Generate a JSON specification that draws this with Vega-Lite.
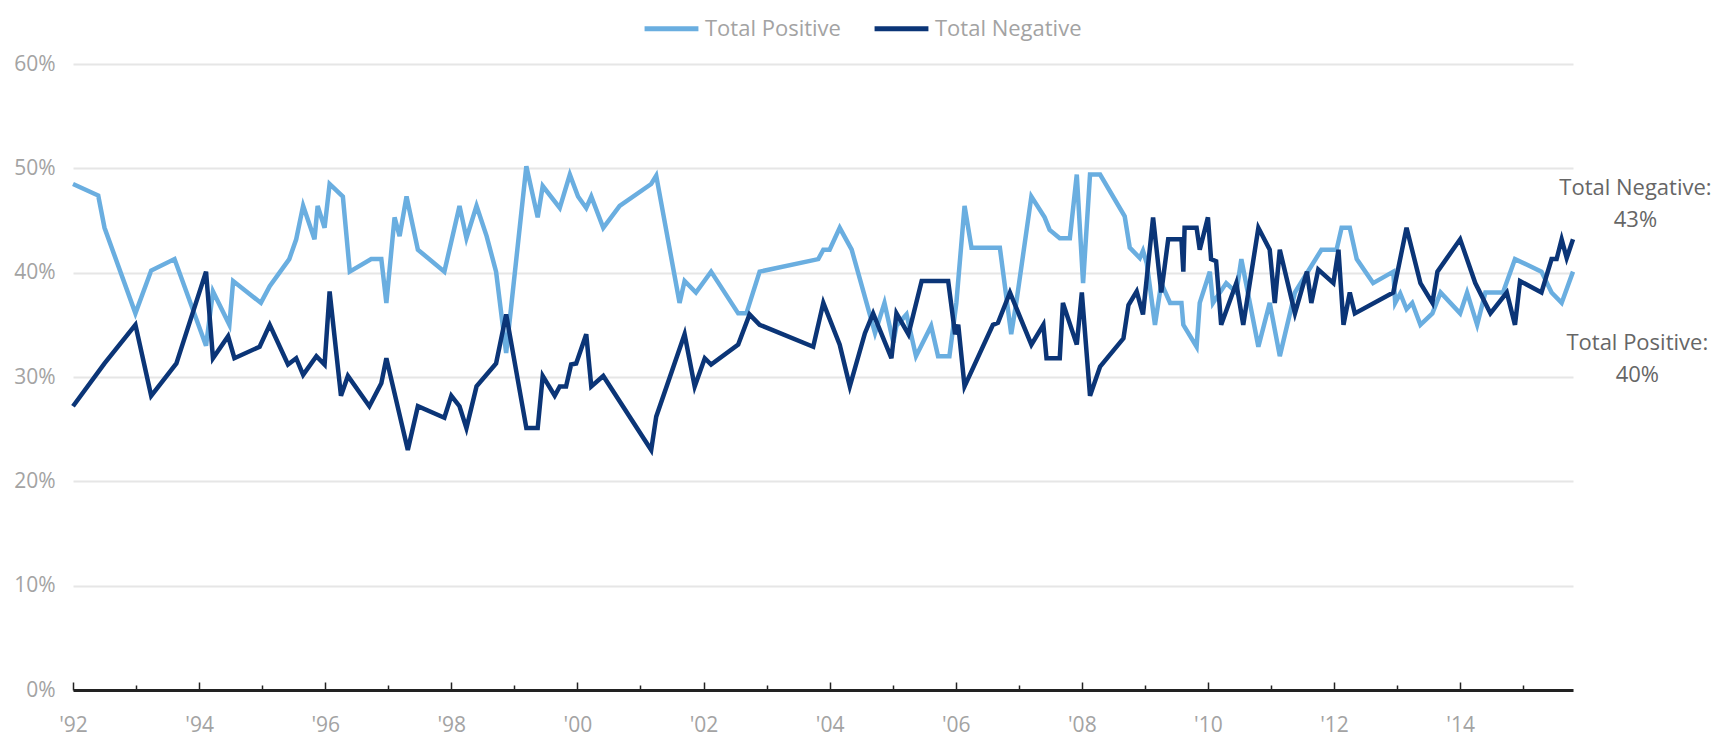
{
  "$schema": "https://vega.github.io/schema/vega-lite/v6.json",
  "width": 1500,
  "height": 626,
  "autosize": {"type": "none"},
  "padding": {"left": 73, "top": 64, "right": 146, "bottom": 46},
  "background": "white",
  "config": {"view": {"stroke": null}, "font": "Open Sans"},
  "datasets": {
    "series": [
      {"s":"Total Positive","t":1992.00,"v":48.5},{"s":"Total Positive","t":1992.40,"v":47.4},{"s":"Total Positive","t":1992.50,"v":44.3},{"s":"Total Positive","t":1992.99,"v":36.1},{"s":"Total Positive","t":1993.24,"v":40.2},{"s":"Total Positive","t":1993.61,"v":41.3},{"s":"Total Positive","t":1994.11,"v":33.0},{"s":"Total Positive","t":1994.22,"v":38.2},{"s":"Total Positive","t":1994.48,"v":35.0},{"s":"Total Positive","t":1994.54,"v":39.2},{"s":"Total Positive","t":1994.98,"v":37.1},{"s":"Total Positive","t":1995.12,"v":38.7},{"s":"Total Positive","t":1995.43,"v":41.3},{"s":"Total Positive","t":1995.54,"v":43.2},{"s":"Total Positive","t":1995.65,"v":46.4},{"s":"Total Positive","t":1995.83,"v":43.2},{"s":"Total Positive","t":1995.88,"v":46.4},{"s":"Total Positive","t":1995.99,"v":44.3},{"s":"Total Positive","t":1996.07,"v":48.5},{"s":"Total Positive","t":1996.28,"v":47.3},{"s":"Total Positive","t":1996.39,"v":40.1},{"s":"Total Positive","t":1996.73,"v":41.3},{"s":"Total Positive","t":1996.89,"v":41.3},{"s":"Total Positive","t":1996.97,"v":37.1},{"s":"Total Positive","t":1997.10,"v":45.3},{"s":"Total Positive","t":1997.18,"v":43.5},{"s":"Total Positive","t":1997.29,"v":47.3},{"s":"Total Positive","t":1997.47,"v":42.2},{"s":"Total Positive","t":1997.89,"v":40.1},{"s":"Total Positive","t":1998.13,"v":46.4},{"s":"Total Positive","t":1998.24,"v":43.3},{"s":"Total Positive","t":1998.40,"v":46.4},{"s":"Total Positive","t":1998.56,"v":43.5},{"s":"Total Positive","t":1998.71,"v":40.1},{"s":"Total Positive","t":1998.87,"v":32.3},{"s":"Total Positive","t":1999.19,"v":50.2},{"s":"Total Positive","t":1999.37,"v":45.3},{"s":"Total Positive","t":1999.45,"v":48.3},{"s":"Total Positive","t":1999.72,"v":46.2},{"s":"Total Positive","t":1999.88,"v":49.4},{"s":"Total Positive","t":2000.01,"v":47.3},{"s":"Total Positive","t":2000.14,"v":46.2},{"s":"Total Positive","t":2000.22,"v":47.3},{"s":"Total Positive","t":2000.41,"v":44.3},{"s":"Total Positive","t":2000.67,"v":46.4},{"s":"Total Positive","t":2001.17,"v":48.5},{"s":"Total Positive","t":2001.25,"v":49.3},{"s":"Total Positive","t":2001.62,"v":37.1},{"s":"Total Positive","t":2001.70,"v":39.2},{"s":"Total Positive","t":2001.88,"v":38.1},{"s":"Total Positive","t":2002.12,"v":40.1},{"s":"Total Positive","t":2002.55,"v":36.1},{"s":"Total Positive","t":2002.68,"v":36.1},{"s":"Total Positive","t":2002.89,"v":40.1},{"s":"Total Positive","t":2003.82,"v":41.3},{"s":"Total Positive","t":2003.90,"v":42.2},{"s":"Total Positive","t":2004.00,"v":42.2},{"s":"Total Positive","t":2004.16,"v":44.3},{"s":"Total Positive","t":2004.35,"v":42.2},{"s":"Total Positive","t":2004.72,"v":34.2},{"s":"Total Positive","t":2004.87,"v":37.1},{"s":"Total Positive","t":2005.01,"v":33.3},{"s":"Total Positive","t":2005.06,"v":34.9},{"s":"Total Positive","t":2005.22,"v":36.0},{"s":"Total Positive","t":2005.37,"v":32.0},{"s":"Total Positive","t":2005.61,"v":34.9},{"s":"Total Positive","t":2005.72,"v":32.0},{"s":"Total Positive","t":2005.90,"v":32.0},{"s":"Total Positive","t":2006.01,"v":37.1},{"s":"Total Positive","t":2006.14,"v":46.4},{"s":"Total Positive","t":2006.25,"v":42.4},{"s":"Total Positive","t":2006.70,"v":42.4},{"s":"Total Positive","t":2006.88,"v":34.1},{"s":"Total Positive","t":2006.96,"v":37.1},{"s":"Total Positive","t":2007.20,"v":47.3},{"s":"Total Positive","t":2007.41,"v":45.3},{"s":"Total Positive","t":2007.49,"v":44.1},{"s":"Total Positive","t":2007.65,"v":43.3},{"s":"Total Positive","t":2007.81,"v":43.3},{"s":"Total Positive","t":2007.92,"v":49.4},{"s":"Total Positive","t":2008.02,"v":39.0},{"s":"Total Positive","t":2008.13,"v":49.4},{"s":"Total Positive","t":2008.29,"v":49.4},{"s":"Total Positive","t":2008.68,"v":45.4},{"s":"Total Positive","t":2008.76,"v":42.4},{"s":"Total Positive","t":2008.92,"v":41.4},{"s":"Total Positive","t":2008.97,"v":42.1},{"s":"Total Positive","t":2009.03,"v":40.9},{"s":"Total Positive","t":2009.16,"v":35.0},{"s":"Total Positive","t":2009.26,"v":39.0},{"s":"Total Positive","t":2009.40,"v":37.1},{"s":"Total Positive","t":2009.58,"v":37.1},{"s":"Total Positive","t":2009.61,"v":35.0},{"s":"Total Positive","t":2009.82,"v":32.9},{"s":"Total Positive","t":2009.87,"v":37.1},{"s":"Total Positive","t":2010.03,"v":40.1},{"s":"Total Positive","t":2010.08,"v":37.1},{"s":"Total Positive","t":2010.29,"v":39.0},{"s":"Total Positive","t":2010.45,"v":38.1},{"s":"Total Positive","t":2010.53,"v":41.3},{"s":"Total Positive","t":2010.80,"v":32.9},{"s":"Total Positive","t":2010.98,"v":37.1},{"s":"Total Positive","t":2011.14,"v":32.0},{"s":"Total Positive","t":2011.38,"v":38.1},{"s":"Total Positive","t":2011.80,"v":42.2},{"s":"Total Positive","t":2012.04,"v":42.2},{"s":"Total Positive","t":2012.12,"v":44.3},{"s":"Total Positive","t":2012.25,"v":44.3},{"s":"Total Positive","t":2012.36,"v":41.3},{"s":"Total Positive","t":2012.62,"v":39.0},{"s":"Total Positive","t":2012.94,"v":40.1},{"s":"Total Positive","t":2012.97,"v":37.1},{"s":"Total Positive","t":2013.05,"v":38.0},{"s":"Total Positive","t":2013.15,"v":36.5},{"s":"Total Positive","t":2013.24,"v":37.1},{"s":"Total Positive","t":2013.37,"v":35.0},{"s":"Total Positive","t":2013.56,"v":36.1},{"s":"Total Positive","t":2013.69,"v":38.1},{"s":"Total Positive","t":2014.00,"v":36.1},{"s":"Total Positive","t":2014.11,"v":38.1},{"s":"Total Positive","t":2014.27,"v":35.0},{"s":"Total Positive","t":2014.40,"v":38.1},{"s":"Total Positive","t":2014.68,"v":38.1},{"s":"Total Positive","t":2014.87,"v":41.3},{"s":"Total Positive","t":2015.29,"v":40.1},{"s":"Total Positive","t":2015.45,"v":38.1},{"s":"Total Positive","t":2015.61,"v":37.1},{"s":"Total Positive","t":2015.79,"v":40.1},
      {"s":"Total Negative","t":1992.00,"v":27.2},{"s":"Total Negative","t":1992.50,"v":31.3},{"s":"Total Negative","t":1992.99,"v":35.0},{"s":"Total Negative","t":1993.24,"v":28.2},{"s":"Total Negative","t":1993.64,"v":31.3},{"s":"Total Negative","t":1994.11,"v":40.1},{"s":"Total Negative","t":1994.22,"v":31.8},{"s":"Total Negative","t":1994.46,"v":33.9},{"s":"Total Negative","t":1994.56,"v":31.8},{"s":"Total Negative","t":1994.96,"v":32.9},{"s":"Total Negative","t":1995.12,"v":35.0},{"s":"Total Negative","t":1995.41,"v":31.2},{"s":"Total Negative","t":1995.54,"v":31.8},{"s":"Total Negative","t":1995.65,"v":30.2},{"s":"Total Negative","t":1995.86,"v":32.0},{"s":"Total Negative","t":1995.99,"v":31.2},{"s":"Total Negative","t":1996.07,"v":38.2},{"s":"Total Negative","t":1996.25,"v":28.2},{"s":"Total Negative","t":1996.36,"v":30.1},{"s":"Total Negative","t":1996.70,"v":27.2},{"s":"Total Negative","t":1996.89,"v":29.4},{"s":"Total Negative","t":1996.97,"v":31.8},{"s":"Total Negative","t":1997.31,"v":23.0},{"s":"Total Negative","t":1997.47,"v":27.2},{"s":"Total Negative","t":1997.89,"v":26.1},{"s":"Total Negative","t":1998.00,"v":28.2},{"s":"Total Negative","t":1998.13,"v":27.2},{"s":"Total Negative","t":1998.24,"v":25.1},{"s":"Total Negative","t":1998.40,"v":29.1},{"s":"Total Negative","t":1998.71,"v":31.3},{"s":"Total Negative","t":1998.87,"v":36.0},{"s":"Total Negative","t":1999.19,"v":25.1},{"s":"Total Negative","t":1999.37,"v":25.1},{"s":"Total Negative","t":1999.45,"v":30.1},{"s":"Total Negative","t":1999.64,"v":28.2},{"s":"Total Negative","t":1999.72,"v":29.1},{"s":"Total Negative","t":1999.82,"v":29.1},{"s":"Total Negative","t":1999.90,"v":31.2},{"s":"Total Negative","t":1999.98,"v":31.3},{"s":"Total Negative","t":2000.14,"v":34.1},{"s":"Total Negative","t":2000.22,"v":29.1},{"s":"Total Negative","t":2000.41,"v":30.1},{"s":"Total Negative","t":2001.17,"v":23.0},{"s":"Total Negative","t":2001.25,"v":26.2},{"s":"Total Negative","t":2001.70,"v":34.1},{"s":"Total Negative","t":2001.86,"v":29.1},{"s":"Total Negative","t":2002.02,"v":31.8},{"s":"Total Negative","t":2002.12,"v":31.2},{"s":"Total Negative","t":2002.55,"v":33.1},{"s":"Total Negative","t":2002.73,"v":36.0},{"s":"Total Negative","t":2002.89,"v":35.0},{"s":"Total Negative","t":2003.74,"v":32.9},{"s":"Total Negative","t":2003.90,"v":37.1},{"s":"Total Negative","t":2004.16,"v":33.1},{"s":"Total Negative","t":2004.32,"v":29.1},{"s":"Total Negative","t":2004.56,"v":34.2},{"s":"Total Negative","t":2004.69,"v":36.1},{"s":"Total Negative","t":2004.98,"v":31.8},{"s":"Total Negative","t":2005.06,"v":36.1},{"s":"Total Negative","t":2005.25,"v":34.1},{"s":"Total Negative","t":2005.46,"v":39.2},{"s":"Total Negative","t":2005.88,"v":39.2},{"s":"Total Negative","t":2005.99,"v":34.1},{"s":"Total Negative","t":2006.04,"v":35.0},{"s":"Total Negative","t":2006.14,"v":29.1},{"s":"Total Negative","t":2006.59,"v":35.0},{"s":"Total Negative","t":2006.67,"v":35.2},{"s":"Total Negative","t":2006.86,"v":38.1},{"s":"Total Negative","t":2007.20,"v":33.1},{"s":"Total Negative","t":2007.39,"v":35.0},{"s":"Total Negative","t":2007.44,"v":31.8},{"s":"Total Negative","t":2007.65,"v":31.8},{"s":"Total Negative","t":2007.70,"v":37.1},{"s":"Total Negative","t":2007.92,"v":33.1},{"s":"Total Negative","t":2008.00,"v":38.1},{"s":"Total Negative","t":2008.13,"v":28.2},{"s":"Total Negative","t":2008.29,"v":31.0},{"s":"Total Negative","t":2008.66,"v":33.7},{"s":"Total Negative","t":2008.74,"v":36.9},{"s":"Total Negative","t":2008.87,"v":38.2},{"s":"Total Negative","t":2008.97,"v":36.0},{"s":"Total Negative","t":2009.13,"v":45.3},{"s":"Total Negative","t":2009.26,"v":38.1},{"s":"Total Negative","t":2009.37,"v":43.2},{"s":"Total Negative","t":2009.58,"v":43.2},{"s":"Total Negative","t":2009.61,"v":40.1},{"s":"Total Negative","t":2009.63,"v":44.3},{"s":"Total Negative","t":2009.82,"v":44.3},{"s":"Total Negative","t":2009.87,"v":42.2},{"s":"Total Negative","t":2010.00,"v":45.3},{"s":"Total Negative","t":2010.05,"v":41.3},{"s":"Total Negative","t":2010.13,"v":41.1},{"s":"Total Negative","t":2010.21,"v":35.0},{"s":"Total Negative","t":2010.45,"v":39.0},{"s":"Total Negative","t":2010.56,"v":35.0},{"s":"Total Negative","t":2010.80,"v":44.3},{"s":"Total Negative","t":2010.98,"v":42.2},{"s":"Total Negative","t":2011.06,"v":37.1},{"s":"Total Negative","t":2011.14,"v":42.2},{"s":"Total Negative","t":2011.38,"v":36.1},{"s":"Total Negative","t":2011.57,"v":40.1},{"s":"Total Negative","t":2011.64,"v":37.1},{"s":"Total Negative","t":2011.75,"v":40.3},{"s":"Total Negative","t":2011.99,"v":39.0},{"s":"Total Negative","t":2012.07,"v":42.2},{"s":"Total Negative","t":2012.15,"v":35.0},{"s":"Total Negative","t":2012.25,"v":38.1},{"s":"Total Negative","t":2012.33,"v":36.1},{"s":"Total Negative","t":2012.94,"v":38.1},{"s":"Total Negative","t":2013.15,"v":44.3},{"s":"Total Negative","t":2013.37,"v":39.0},{"s":"Total Negative","t":2013.56,"v":37.1},{"s":"Total Negative","t":2013.64,"v":40.1},{"s":"Total Negative","t":2014.00,"v":43.2},{"s":"Total Negative","t":2014.24,"v":39.0},{"s":"Total Negative","t":2014.48,"v":36.1},{"s":"Total Negative","t":2014.74,"v":38.1},{"s":"Total Negative","t":2014.87,"v":35.0},{"s":"Total Negative","t":2014.95,"v":39.2},{"s":"Total Negative","t":2015.29,"v":38.1},{"s":"Total Negative","t":2015.45,"v":41.3},{"s":"Total Negative","t":2015.53,"v":41.3},{"s":"Total Negative","t":2015.61,"v":43.2},{"s":"Total Negative","t":2015.69,"v":41.4},{"s":"Total Negative","t":2015.79,"v":43.2}
    ],
    "notes": [
      {"label": "Total Negative:\n43%", "t": 2016.78, "v": 48.13},
      {"label": "Total Positive:\n40%", "t": 2016.81, "v": 33.3}
    ]
  },
  "layer": [
    {
      "data": {"name": "series"},
      "mark": {"type": "line", "strokeWidth": 4.5},
      "encoding": {
        "x": {
          "field": "t", "type": "quantitative",
          "scale": {"domain": [1992, 2015.79], "nice": false, "zero": false},
          "axis": {
            "title": null,
            "values": [1992,1993,1994,1995,1996,1997,1998,1999,2000,2001,2002,2003,2004,2005,2006,2007,2008,2009,2010,2011,2012,2013,2014,2015],
            "labelExpr": "datum.value % 2 == 0 ? \"'\" + substring(toString(datum.value), 2, 4) : ''",
            "grid": false,
            "domainColor": "#222222",
            "domainWidth": 3,
            "tickColor": "#222222",
            "tickWidth": 1.5,
            "tickSize": {"condition": {"test": "datum.value % 2 == 0", "value": -8}, "value": -5},
            "labelPadding": 32,
            "labelFontSize": 21,
            "labelColor": "#a3a3a3",
            "labelFlush": false
          }
        },
        "y": {
          "field": "v", "type": "quantitative",
          "scale": {"domain": [0, 60], "nice": false},
          "axis": {
            "title": null,
            "values": [0, 10, 20, 30, 40, 50, 60],
            "labelExpr": "datum.value + '%'",
            "domain": false,
            "ticks": false,
            "grid": true,
            "gridColor": "#e6e6e6",
            "gridWidth": 2,
            "labelPadding": 18,
            "labelFontSize": 21,
            "labelColor": "#a3a3a3"
          }
        },
        "color": {
          "field": "s", "type": "nominal",
          "scale": {"domain": ["Total Positive", "Total Negative"], "range": ["#6aaee0", "#0b3577"]},
          "legend": {
            "title": null,
            "orient": "none",
            "legendX": 569,
            "legendY": -65,
            "direction": "horizontal",
            "symbolType": "stroke",
            "symbolSize": 2900,
            "symbolStrokeWidth": 5,
            "labelFontSize": 22,
            "labelColor": "#a3a3a3",
            "labelOffset": 4,
            "columnPadding": 23
          }
        }
      }
    },
    {
      "data": {"name": "notes"},
      "mark": {"type": "text", "align": "center", "baseline": "middle", "lineBreak": "\n", "lineHeight": 32, "fontSize": 22, "color": "#666666"},
      "encoding": {
        "x": {"field": "t", "type": "quantitative", "scale": {"domain": [1992, 2015.79], "nice": false, "zero": false}},
        "y": {"field": "v", "type": "quantitative", "scale": {"domain": [0, 60], "nice": false}},
        "text": {"field": "label"}
      }
    }
  ]
}
